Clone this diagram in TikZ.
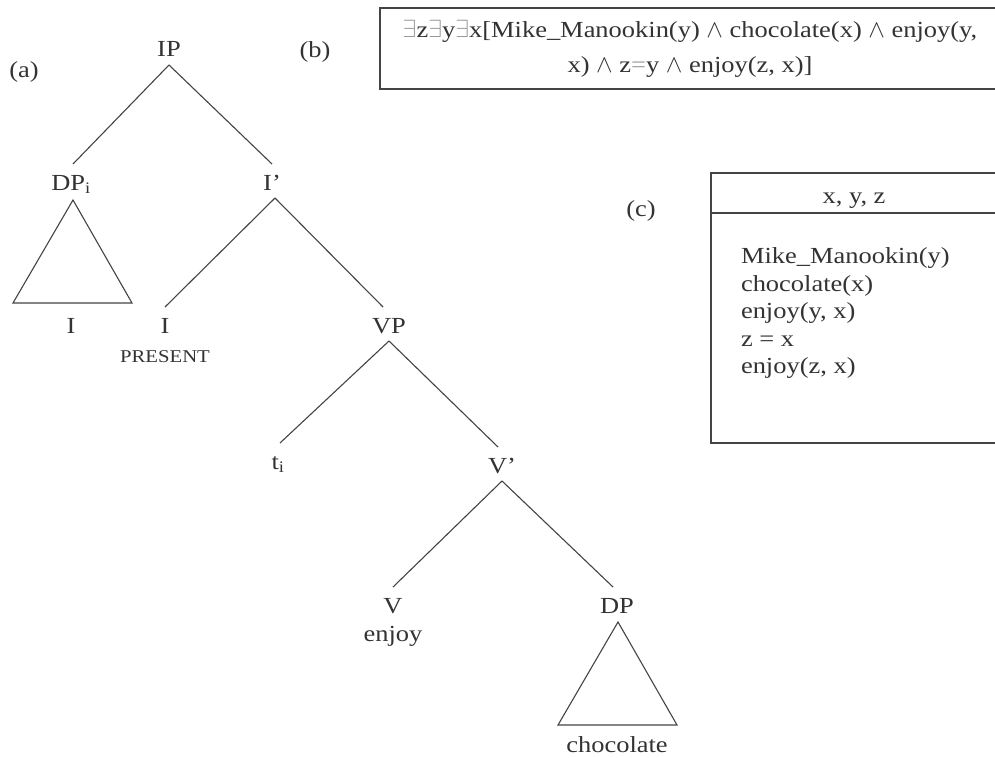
\documentclass[tikz,border=0pt]{standalone}
\usepackage{fontspec}
\setmainfont[FakeStretch=1.15]{Liberation Serif}
\usetikzlibrary{calc}
\definecolor{ink}{HTML}{333333}
\definecolor{edge}{HTML}{444444}
\definecolor{faint}{HTML}{9A9A9A}
\tikzset{
  base/.style={inner sep=0pt, outer sep=0pt, text=ink, font=\fontsize{23}{27.5}\selectfont},
  cat/.style={base, anchor=base, text height=26pt, text depth=8pt},
  word/.style={base, anchor=base},
  small/.style={base, anchor=base, font=\fontsize{18}{20}\selectfont},
  branch/.style={draw=edge, line width=1.1pt},
  frame/.style={draw=edge, line width=1.6pt}
}
\begin{document}
\begin{tikzpicture}[x=1pt,y=-1pt]
\useasboundingbox[fill=white] (0,0) rectangle (995,757);

% panel labels
\node[word] (la) at (24,78) {(a)};
\node[word] (lb) at (315,58) {(b)};
\node[word] (lc) at (641,216) {(c)};

% tree
\node[cat] (ip) at (169,57) {IP};
\node[cat] (dp) at (71,190) {DP\textsubscript{i}};
\node[cat] (ib) at (272,190) {I’};
\node[cat] (i) at (165,333) {I};
\node[small] (pres) at (165,362) {PRESENT};
\node[cat] (vp) at (389,333) {VP};
\node[cat] (t) at (278,469) {t\textsubscript{i}};
\node[cat] (vb) at (502,473) {V’};
\node[cat] (v) at (393,613) {V};
\node[word] (enjoy) at (393,641) {enjoy};
\node[cat] (dp2) at (617,613) {DP};
\node[word] (dpi) at (71,333) {I};
\node[word] (choc) at (617,752) {chocolate};

\coordinate (dpA) at (73,200);
\coordinate (dpL) at (13,303);
\coordinate (dpR) at (132,303);
\coordinate (dp2A) at (618,622);
\coordinate (dp2L) at (558,725);
\coordinate (dp2R) at (677,725);

\draw[branch] (ip.south) -- (dp.north -| dpA);
\draw[branch] (ip.south) -- (ib.north);
\draw[branch] ([xshift=3pt]ib.south) -- (i.north);
\draw[branch] ([xshift=3pt]ib.south) -- ([xshift=-6pt]vp.north);
\draw[branch] (vp.south) -- ([xshift=2pt]t.north);
\draw[branch] (vp.south) -- ([xshift=-4pt]vb.north);
\draw[branch] (vb.south) -- (v.north);
\draw[branch] (vb.south) -- ([xshift=-4pt]dp2.north);
\draw[branch, line join=miter] (dpA) -- (dpL) -- (dpR) -- cycle;
\draw[branch, line join=miter] (dp2A) -- (dp2L) -- (dp2R) -- cycle;

% box (b)
\node[frame, base, minimum width=620pt, minimum height=81pt, align=center,
      font=\fontsize{23}{35}\selectfont] (fol) at (690,48.5)
  {\textcolor{faint}{$\exists$}z\textcolor{faint}{$\exists$}y\textcolor{faint}{$\exists$}x[Mike\_Manookin(y) $\wedge$ chocolate(x) $\wedge$ enjoy(y,\\
   x) $\wedge$ z\textcolor{faint}{=}y $\wedge$ enjoy(z, x)]};

% box (c)
\node[frame, base, minimum width=289pt, minimum height=270pt, anchor=north west] (drs) at (711,173) {};
\draw[frame] ($(drs.north west)+(0,40)$) -- ($(drs.north east)+(0,40)$);
\node[word] (refs) at (854,203) {x, y, z};
\node[base, anchor=north west, align=left] (conds) at (741,248)
  {Mike\_Manookin(y)\\chocolate(x)\\enjoy(y, x)\\z = x\\enjoy(z, x)};
\end{tikzpicture}
\end{document}
